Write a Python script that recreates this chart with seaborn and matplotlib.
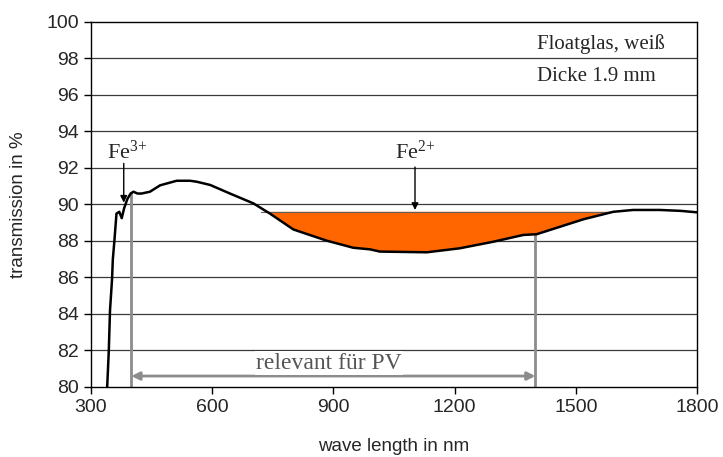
import numpy as np
import pandas as pd
import matplotlib
matplotlib.use("Agg")
import matplotlib.pyplot as plt
import seaborn as sns

# ---- data ----
wavelength = [340, 344, 347, 352, 354, 358, 363, 370, 376, 382, 390, 398, 405, 415,
              425, 446, 471, 512, 545, 561, 595, 644, 702, 743, 801, 883, 949, 991,
              1015, 1131, 1213, 1296, 1370, 1403, 1461, 1519, 1593, 1642, 1708,
              1760, 1800]
transmission = [80.0, 82.0, 84.2, 85.9, 87.0, 88.05, 89.5, 89.6, 89.25, 89.8, 90.3,
                90.6, 90.7, 90.6, 90.6, 90.7, 91.05, 91.3, 91.3, 91.25, 91.07, 90.6,
                90.06, 89.5, 88.63, 88.02, 87.63, 87.54, 87.42, 87.38, 87.6, 87.96,
                88.33, 88.37, 88.78, 89.19, 89.6, 89.7, 89.7, 89.65, 89.57]
fe2_level = 89.6
fill_start = 650
pv_range = [400, 1400]
x_ticks = [300, 600, 900, 1200, 1500, 1800]
y_ticks = [80, 82, 84, 86, 88, 90, 92, 94, 96, 98, 100]
label_lines = ["Floatglas, weiß", "Dicke 1.9 mm"]

df = pd.DataFrame({"wl": wavelength, "T": transmission})

sns.set_style("ticks")
plt.rcParams["font.family"] = ["Liberation Sans", "DejaVu Sans"]
plt.rcParams["mathtext.fontset"] = "custom"
plt.rcParams["mathtext.rm"] = "Liberation Serif"
plt.rcParams["mathtext.it"] = "Liberation Serif:italic"
plt.rcParams["mathtext.bf"] = "Liberation Serif:bold"
serif = ["Liberation Serif", "DejaVu Serif"]

fig = plt.figure(figsize=(7.23, 4.57), dpi=100)
ax = fig.add_axes([0.1259, 0.1532, 0.964 - 0.1259, 0.9519 - 0.1532])

# grid lines
for yv in y_ticks[1:-1]:
    ax.axhline(yv, color="#3a3a3a", lw=0.9, zorder=0)

# fill Fe2+ absorption
wl = np.array(wavelength, float)
tr = np.array(transmission, float)
mask = (tr < fe2_level) & (wl >= fill_start)
ax.fill_between(wl, tr, fe2_level, where=mask, interpolate=True,
                color="#ff6600", lw=0, zorder=1)
ax.plot([720, 1590], [fe2_level, fe2_level], color="#606060", lw=0.8, zorder=1.5)

sns.lineplot(data=df, x="wl", y="T", ax=ax, color="black", lw=1.8, zorder=3,
             estimator=None, sort=False)

# PV range verticals
for xv in pv_range:
    ax.plot([xv, xv], [80, np.interp(xv, wl, tr)], color="#8c8c8c", lw=2, zorder=2)
ax.annotate("", xy=(pv_range[0], 80.6), xytext=(pv_range[1], 80.6),
            arrowprops=dict(arrowstyle="<|-|>", color="#8c8c8c", lw=2,
                            mutation_scale=12, shrinkA=0, shrinkB=0), zorder=2)
ax.text(889, 81.3, "relevant für PV", ha="center", va="center", fontsize=17,
        color="#555555", family=serif,
        bbox=dict(facecolor="white", edgecolor="none", pad=1.0), zorder=2.5)

# Fe annotations
ax.text(390, 92.85, r"Fe$^{3{+}}$", ha="center", va="center", fontsize=16, family=serif)
ax.annotate("", xy=(381, 90.1), xytext=(381, 92.25),
            arrowprops=dict(arrowstyle="-|>", color="black", lw=1,
                            mutation_scale=10, shrinkA=0, shrinkB=0))
ax.text(1102, 92.85, r"Fe$^{2{+}}$", ha="center", va="center", fontsize=16, family=serif)
ax.annotate("", xy=(1102, 89.7), xytext=(1102, 92.05),
            arrowprops=dict(arrowstyle="-|>", color="black", lw=1,
                            mutation_scale=10, shrinkA=0, shrinkB=0))

ax.text(1404, 98.8, label_lines[0], ha="left", va="center", fontsize=15, family=serif)
ax.text(1404, 97.0, label_lines[1], ha="left", va="center", fontsize=15, family=serif)

ax.set_xlim(300, 1800)
ax.set_ylim(80, 100)
ax.set_xticks(x_ticks)
ax.set_yticks(y_ticks)
ax.tick_params(labelsize=14, length=5, width=1, color="black", direction="out")
for s in ax.spines.values():
    s.set_visible(True)
    s.set_color("black")
    s.set_linewidth(1)
ax.set_xlabel("wave length in nm", fontsize=13.5)
ax.set_ylabel("transmission in %", fontsize=13.5)
ax.xaxis.set_label_coords(0.5, -0.14)
ax.yaxis.set_label_coords(-0.105, 0.5)

fig.savefig("out.png", dpi=100)
